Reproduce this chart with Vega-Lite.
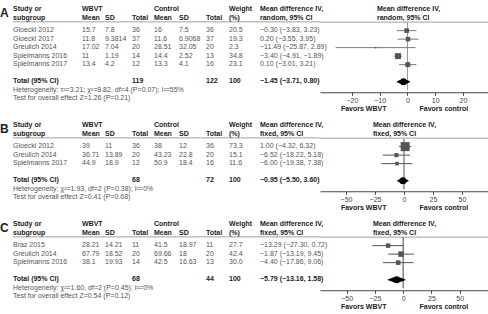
{
"$schema":"https://vega.github.io/schema/vega-lite/v6.json",
"background":"white",
"padding":{"left":0,"top":5,"right":0,"bottom":0},
"spacing":9,
"config":{"view":{"stroke":null},"text":{"font":"Liberation Sans","fontSize":7,"align":"left","baseline":"middle"},
"axis":{"labelFont":"Liberation Sans","titleFont":"Liberation Sans","labelFontSize":7,"titleFontSize":7,"titleFontWeight":"bold","titleColor":"#222","labelColor":"#444","domainColor":"#444","tickColor":"#444","tickSize":3,"labelPadding":1,"titlePadding":1,"grid":false,"labelFlush":false,"labelOverlap":false}},
"datasets":{"t":[
{"p":"A","r":"h1","letter":"A","study":"Study or","wm":"WBVT","cm":"Control","wgt":"Weight","ci":"Mean difference IV,"},
{"p":"A","r":"h2","study":"subgroup","wm":"Mean","wsd":"SD","wt":"Total","cm":"Mean","csd":"SD","ct":"Total","wgt":"(%)","ci":"random, 95% CI"},
{"p":"A","r":"r1","study":"Gloeckl 2012","wm":"15.7","wsd":"7.8","wt":"36","cm":"16","csd":"7.5","ct":"36","wgt":"20.5","ci":"−0.30 (−3.83, 3.23)","w":20.5,"md":-0.30,"lo":-3.83,"hi":3.23},
{"p":"A","r":"r2","study":"Gloeckl 2017","wm":"11.8","wsd":"9.3814","wt":"37","cm":"11.6","csd":"6.9068","ct":"37","wgt":"19.3","ci":"0.20 (−3.55, 3.95)","w":19.3,"md":0.20,"lo":-3.55,"hi":3.95},
{"p":"A","r":"r3","study":"Greulich 2014","wm":"17.02","wsd":"7.04","wt":"20","cm":"28.51","csd":"32.05","ct":"20","wgt":"2.3","ci":"−11.49 (−25.87, 2.89)","w":2.3,"md":-11.49,"lo":-25.87,"hi":2.89},
{"p":"A","r":"r4","study":"Spielmanns 2016","wm":"11","wsd":"1.19","wt":"14","cm":"14.4","csd":"2.52","ct":"13","wgt":"34.8","ci":"−3.40 (−4.91, −1.89)","w":34.8,"md":-3.40,"lo":-4.91,"hi":-1.89},
{"p":"A","r":"r5","study":"Spielmanns 2017","wm":"13.4","wsd":"4.2","wt":"12","cm":"13.3","csd":"4.1","ct":"16","wgt":"23.1","ci":"0.10 (−3.01, 3.21)","w":23.1,"md":0.10,"lo":-3.01,"hi":3.21},
{"p":"A","r":"tot","study":"Total (95% CI)","wt":"119","ct":"122","wgt":"100","ci":"−1.45 (−3.71, 0.80)","md":-1.45,"lo":-3.71,"hi":0.80},
{"p":"A","r":"het","study":"Heterogeneity: τ²=3.21; χ²=8.82, df=4 (P=0.07); I²=55%"},
{"p":"A","r":"test","study":"Test for overall effect Z=1.26 (P=0.21)"},
{"p":"B","r":"h1","letter":"B","study":"Study or","wm":"WBVT","cm":"Control","wgt":"Weight","ci":"Mean difference IV,"},
{"p":"B","r":"h2","study":"subgroup","wm":"Mean","wsd":"SD","wt":"Total","cm":"Mean","csd":"SD","ct":"Total","wgt":"(%)","ci":"fixed, 95% CI"},
{"p":"B","r":"r1","study":"Gloeckl 2012","wm":"39","wsd":"11","wt":"36","cm":"38","csd":"12","ct":"36","wgt":"73.3","ci":"1.00 (−4.32, 6.32)","w":73.3,"md":1.00,"lo":-4.32,"hi":6.32},
{"p":"B","r":"r2","study":"Greulich 2014","wm":"36.71","wsd":"13.89","wt":"20","cm":"43.23","csd":"22.8","ct":"20","wgt":"15.1","ci":"−6.52 (−18.22, 5.18)","w":15.1,"md":-6.52,"lo":-18.22,"hi":5.18},
{"p":"B","r":"r3","study":"Spielmanns 2017","wm":"44.9","wsd":"18.9","wt":"12","cm":"50.9","csd":"18.4","ct":"16","wgt":"11.6","ci":"−6.00 (−19.38, 7.38)","w":11.6,"md":-6.00,"lo":-19.38,"hi":7.38},
{"p":"B","r":"tot","study":"Total (95% CI)","wt":"68","ct":"72","wgt":"100","ci":"−0.95 (−5.50, 3.60)","md":-0.95,"lo":-5.50,"hi":3.60},
{"p":"B","r":"het","study":"Heterogeneity: χ²=1.93, df=2 (P=0.38); I²=0%"},
{"p":"B","r":"test","study":"Test for overall effect Z=0.41 (P=0.68)"},
{"p":"C","r":"h1","letter":"C","study":"Study or","wm":"WBVT","cm":"Control","wgt":"Weight","ci":"Mean difference IV,"},
{"p":"C","r":"h2","study":"subgroup","wm":"Mean","wsd":"SD","wt":"Total","cm":"Mean","csd":"SD","ct":"Total","wgt":"(%)","ci":"fixed, 95% CI"},
{"p":"C","r":"r1","study":"Braz 2015","wm":"28.21","wsd":"14.21","wt":"11","cm":"41.5","csd":"18.97","ct":"11","wgt":"27.7","ci":"−13.29 (−27.30, 0.72)","w":27.7,"md":-13.29,"lo":-27.30,"hi":0.72},
{"p":"C","r":"r2","study":"Greulich 2014","wm":"67.79","wsd":"18.52","wt":"20","cm":"69.66","csd":"18","ct":"20","wgt":"42.4","ci":"−1.87 (−13.19, 9.45)","w":42.4,"md":-1.87,"lo":-13.19,"hi":9.45},
{"p":"C","r":"r3","study":"Spielmanns 2016","wm":"38.1","wsd":"19.93","wt":"14","cm":"42.5","csd":"16.63","ct":"13","wgt":"30.0","ci":"−4.40 (−17.86, 9.06)","w":30.0,"md":-4.40,"lo":-17.86,"hi":9.06},
{"p":"C","r":"tot","study":"Total (95% CI)","wt":"68","ct":"44","wgt":"100","ci":"−5.79 (−13.16, 1.58)","md":-5.79,"lo":-13.16,"hi":1.58},
{"p":"C","r":"het","study":"Heterogeneity: χ²=1.60, df=2 (P=0.45); I²=0%"},
{"p":"C","r":"test","study":"Test for overall effect Z=0.54 (P=0.12)"}
]},
"vconcat":[
{"hconcat":[
{"width":13,"height":93.5,"data":{"name":"t"},"transform":[{"filter":"datum.p=='A' && isValid(datum.letter)"}],"mark":{"type":"text","fontSize":12,"fontWeight":"bold","color":"#222","dy":4},"encoding":{"x":{"field":"p","type":"nominal","scale":{"type":"point","padding":0,"align":0},"axis":null},"y":{"field":"r","type":"nominal","scale":{"type":"point","domain":["h1","s1","h2","line","s2","r1","s3","r2","s4","r3","s5","r4","s6","r5","s7","s8","s9","tot","s10","het","s11","test"]},"axis":null},"text":{"field":"letter"}}},
{"width":69,"height":93.5,"layer":[{"data":{"name":"t"},"transform":[{"filter":"datum.p=='A' && isValid(datum.study)"}],"mark":{"type":"text","fontWeight":{"expr":"datum.r=='h1'||datum.r=='h2'||datum.r=='tot' ? 'bold' : 'normal'"}},"encoding":{"x":{"field":"p","type":"nominal","scale":{"type":"point","padding":0,"align":0},"axis":null},"y":{"field":"r","type":"nominal","scale":{"type":"point","domain":["h1","s1","h2","line","s2","r1","s3","r2","s4","r3","s5","r4","s6","r5","s7","s8","s9","tot","s10","het","s11","test"]},"axis":null},"text":{"field":"study"},"color":{"condition":{"test":"datum.r=='h1'||datum.r=='h2'||datum.r=='tot'","value":"#222"},"value":"#555"}}},{"data":{"values":[{}]},"mark":{"type":"rule","color":"#888","strokeWidth":0.8},"encoding":{"y":{"datum":"line","type":"nominal","scale":{"type":"point","domain":["h1","s1","h2","line","s2","r1","s3","r2","s4","r3","s5","r4","s6","r5","s7","s8","s9","tot","s10","het","s11","test"]},"axis":null}}}]},
{"width":23,"height":93.5,"layer":[{"data":{"name":"t"},"transform":[{"filter":"datum.p=='A' && isValid(datum.wm)"}],"mark":{"type":"text","fontWeight":{"expr":"datum.r=='h1'||datum.r=='h2'||datum.r=='tot' ? 'bold' : 'normal'"}},"encoding":{"x":{"field":"p","type":"nominal","scale":{"type":"point","padding":0,"align":0},"axis":null},"y":{"field":"r","type":"nominal","scale":{"type":"point","domain":["h1","s1","h2","line","s2","r1","s3","r2","s4","r3","s5","r4","s6","r5","s7","s8","s9","tot","s10","het","s11","test"]},"axis":null},"text":{"field":"wm"},"color":{"condition":{"test":"datum.r=='h1'||datum.r=='h2'||datum.r=='tot'","value":"#222"},"value":"#555"}}},{"data":{"values":[{}]},"mark":{"type":"rule","color":"#888","strokeWidth":0.8},"encoding":{"y":{"datum":"line","type":"nominal","scale":{"type":"point","domain":["h1","s1","h2","line","s2","r1","s3","r2","s4","r3","s5","r4","s6","r5","s7","s8","s9","tot","s10","het","s11","test"]},"axis":null}}}]},
{"width":27,"height":93.5,"layer":[{"data":{"name":"t"},"transform":[{"filter":"datum.p=='A' && isValid(datum.wsd)"}],"mark":{"type":"text","fontWeight":{"expr":"datum.r=='h1'||datum.r=='h2'||datum.r=='tot' ? 'bold' : 'normal'"}},"encoding":{"x":{"field":"p","type":"nominal","scale":{"type":"point","padding":0,"align":0},"axis":null},"y":{"field":"r","type":"nominal","scale":{"type":"point","domain":["h1","s1","h2","line","s2","r1","s3","r2","s4","r3","s5","r4","s6","r5","s7","s8","s9","tot","s10","het","s11","test"]},"axis":null},"text":{"field":"wsd"},"color":{"condition":{"test":"datum.r=='h1'||datum.r=='h2'||datum.r=='tot'","value":"#222"},"value":"#555"}}},{"data":{"values":[{}]},"mark":{"type":"rule","color":"#888","strokeWidth":0.8},"encoding":{"y":{"datum":"line","type":"nominal","scale":{"type":"point","domain":["h1","s1","h2","line","s2","r1","s3","r2","s4","r3","s5","r4","s6","r5","s7","s8","s9","tot","s10","het","s11","test"]},"axis":null}}}]},
{"width":22,"height":93.5,"layer":[{"data":{"name":"t"},"transform":[{"filter":"datum.p=='A' && isValid(datum.wt)"}],"mark":{"type":"text","fontWeight":{"expr":"datum.r=='h1'||datum.r=='h2'||datum.r=='tot' ? 'bold' : 'normal'"}},"encoding":{"x":{"field":"p","type":"nominal","scale":{"type":"point","padding":0,"align":0},"axis":null},"y":{"field":"r","type":"nominal","scale":{"type":"point","domain":["h1","s1","h2","line","s2","r1","s3","r2","s4","r3","s5","r4","s6","r5","s7","s8","s9","tot","s10","het","s11","test"]},"axis":null},"text":{"field":"wt"},"color":{"condition":{"test":"datum.r=='h1'||datum.r=='h2'||datum.r=='tot'","value":"#222"},"value":"#555"}}},{"data":{"values":[{}]},"mark":{"type":"rule","color":"#888","strokeWidth":0.8},"encoding":{"y":{"datum":"line","type":"nominal","scale":{"type":"point","domain":["h1","s1","h2","line","s2","r1","s3","r2","s4","r3","s5","r4","s6","r5","s7","s8","s9","tot","s10","het","s11","test"]},"axis":null}}}]},
{"width":25,"height":93.5,"layer":[{"data":{"name":"t"},"transform":[{"filter":"datum.p=='A' && isValid(datum.cm)"}],"mark":{"type":"text","fontWeight":{"expr":"datum.r=='h1'||datum.r=='h2'||datum.r=='tot' ? 'bold' : 'normal'"}},"encoding":{"x":{"field":"p","type":"nominal","scale":{"type":"point","padding":0,"align":0},"axis":null},"y":{"field":"r","type":"nominal","scale":{"type":"point","domain":["h1","s1","h2","line","s2","r1","s3","r2","s4","r3","s5","r4","s6","r5","s7","s8","s9","tot","s10","het","s11","test"]},"axis":null},"text":{"field":"cm"},"color":{"condition":{"test":"datum.r=='h1'||datum.r=='h2'||datum.r=='tot'","value":"#222"},"value":"#555"}}},{"data":{"values":[{}]},"mark":{"type":"rule","color":"#888","strokeWidth":0.8},"encoding":{"y":{"datum":"line","type":"nominal","scale":{"type":"point","domain":["h1","s1","h2","line","s2","r1","s3","r2","s4","r3","s5","r4","s6","r5","s7","s8","s9","tot","s10","het","s11","test"]},"axis":null}}}]},
{"width":27,"height":93.5,"layer":[{"data":{"name":"t"},"transform":[{"filter":"datum.p=='A' && isValid(datum.csd)"}],"mark":{"type":"text","fontWeight":{"expr":"datum.r=='h1'||datum.r=='h2'||datum.r=='tot' ? 'bold' : 'normal'"}},"encoding":{"x":{"field":"p","type":"nominal","scale":{"type":"point","padding":0,"align":0},"axis":null},"y":{"field":"r","type":"nominal","scale":{"type":"point","domain":["h1","s1","h2","line","s2","r1","s3","r2","s4","r3","s5","r4","s6","r5","s7","s8","s9","tot","s10","het","s11","test"]},"axis":null},"text":{"field":"csd"},"color":{"condition":{"test":"datum.r=='h1'||datum.r=='h2'||datum.r=='tot'","value":"#222"},"value":"#555"}}},{"data":{"values":[{}]},"mark":{"type":"rule","color":"#888","strokeWidth":0.8},"encoding":{"y":{"datum":"line","type":"nominal","scale":{"type":"point","domain":["h1","s1","h2","line","s2","r1","s3","r2","s4","r3","s5","r4","s6","r5","s7","s8","s9","tot","s10","het","s11","test"]},"axis":null}}}]},
{"width":23,"height":93.5,"layer":[{"data":{"name":"t"},"transform":[{"filter":"datum.p=='A' && isValid(datum.ct)"}],"mark":{"type":"text","fontWeight":{"expr":"datum.r=='h1'||datum.r=='h2'||datum.r=='tot' ? 'bold' : 'normal'"}},"encoding":{"x":{"field":"p","type":"nominal","scale":{"type":"point","padding":0,"align":0},"axis":null},"y":{"field":"r","type":"nominal","scale":{"type":"point","domain":["h1","s1","h2","line","s2","r1","s3","r2","s4","r3","s5","r4","s6","r5","s7","s8","s9","tot","s10","het","s11","test"]},"axis":null},"text":{"field":"ct"},"color":{"condition":{"test":"datum.r=='h1'||datum.r=='h2'||datum.r=='tot'","value":"#222"},"value":"#555"}}},{"data":{"values":[{}]},"mark":{"type":"rule","color":"#888","strokeWidth":0.8},"encoding":{"y":{"datum":"line","type":"nominal","scale":{"type":"point","domain":["h1","s1","h2","line","s2","r1","s3","r2","s4","r3","s5","r4","s6","r5","s7","s8","s9","tot","s10","het","s11","test"]},"axis":null}}}]},
{"width":31,"height":93.5,"layer":[{"data":{"name":"t"},"transform":[{"filter":"datum.p=='A' && isValid(datum.wgt)"}],"mark":{"type":"text","fontWeight":{"expr":"datum.r=='h1'||datum.r=='h2'||datum.r=='tot' ? 'bold' : 'normal'"}},"encoding":{"x":{"field":"p","type":"nominal","scale":{"type":"point","padding":0,"align":0},"axis":null},"y":{"field":"r","type":"nominal","scale":{"type":"point","domain":["h1","s1","h2","line","s2","r1","s3","r2","s4","r3","s5","r4","s6","r5","s7","s8","s9","tot","s10","het","s11","test"]},"axis":null},"text":{"field":"wgt"},"color":{"condition":{"test":"datum.r=='h1'||datum.r=='h2'||datum.r=='tot'","value":"#222"},"value":"#555"}}},{"data":{"values":[{}]},"mark":{"type":"rule","color":"#888","strokeWidth":0.8},"encoding":{"y":{"datum":"line","type":"nominal","scale":{"type":"point","domain":["h1","s1","h2","line","s2","r1","s3","r2","s4","r3","s5","r4","s6","r5","s7","s8","s9","tot","s10","het","s11","test"]},"axis":null}}}]},
{"width":60,"height":93.5,"layer":[{"data":{"name":"t"},"transform":[{"filter":"datum.p=='A' && isValid(datum.ci)"}],"mark":{"type":"text","fontWeight":{"expr":"datum.r=='h1'||datum.r=='h2'||datum.r=='tot' ? 'bold' : 'normal'"}},"encoding":{"x":{"field":"p","type":"nominal","scale":{"type":"point","padding":0,"align":0},"axis":null},"y":{"field":"r","type":"nominal","scale":{"type":"point","domain":["h1","s1","h2","line","s2","r1","s3","r2","s4","r3","s5","r4","s6","r5","s7","s8","s9","tot","s10","het","s11","test"]},"axis":null},"text":{"field":"ci"},"color":{"condition":{"test":"datum.r=='h1'||datum.r=='h2'||datum.r=='tot'","value":"#222"},"value":"#555"}}},{"data":{"values":[{}]},"mark":{"type":"rule","color":"#888","strokeWidth":0.8},"encoding":{"y":{"datum":"line","type":"nominal","scale":{"type":"point","domain":["h1","s1","h2","line","s2","r1","s3","r2","s4","r3","s5","r4","s6","r5","s7","s8","s9","tot","s10","het","s11","test"]},"axis":null}}}]},
{"vconcat":[
{"width":168,"height":12.75,"data":{"name":"t"},"transform":[{"filter":"datum.p=='A' && (datum.r=='h1' || datum.r=='h2')"}],"mark":{"type":"text","fontWeight":"bold","color":"#222"},"encoding":{"x":{"field":"p","type":"nominal","scale":{"type":"point","align":0.339},"axis":null},"y":{"field":"r","type":"nominal","scale":{"type":"point","domain":["h1","s1","h2"]},"axis":null},"text":{"field":"ci"}}},
{"width":168,"height":72.25,"layer":[
{"data":{"values":[{}]},"mark":{"type":"rule","color":"#888","strokeWidth":0.8},"encoding":{"y":{"datum":"line","type":"nominal","scale":{"type":"point","domain":["line","s2","r1","s3","r2","s4","r3","s5","r4","s6","r5","s7","s8","s9","tot","s10","het"]},"axis":null}}},
{"data":{"values":[{}]},"mark":{"type":"rule","color":"#999","strokeWidth":1},"encoding":{"x":{"datum":0,"type":"quantitative","scale":{"domain":[-31.5,29],"nice":false,"zero":false},"axis":{"values":[-20,-10,0,10,20],"title":"Favors WBVT\u00a0\u00a0\u00a0\u00a0\u00a0\u00a0\u00a0\u00a0\u00a0\u00a0\u00a0\u00a0\u00a0\u00a0\u00a0\u00a0\u00a0Favors control"}},"y":{"datum":"line","type":"nominal","scale":{"type":"point","domain":["line","s2","r1","s3","r2","s4","r3","s5","r4","s6","r5","s7","s8","s9","tot","s10","het"]},"axis":null},"y2":{"datum":"het"}}},
{"data":{"name":"t"},"transform":[{"filter":"datum.p=='A' && isValid(datum.w)"}],"mark":{"type":"rule","color":"#777","strokeWidth":1},"encoding":{"x":{"field":"lo","type":"quantitative","scale":{"domain":[-31.5,29],"nice":false,"zero":false}},"x2":{"field":"hi"},"y":{"field":"r","type":"nominal","scale":{"type":"point","domain":["line","s2","r1","s3","r2","s4","r3","s5","r4","s6","r5","s7","s8","s9","tot","s10","het"]},"axis":null}}},
{"data":{"name":"t"},"transform":[{"filter":"datum.p=='A' && isValid(datum.w)"}],"mark":{"type":"point","shape":"square","filled":true,"color":"#555","opacity":1},"encoding":{"x":{"field":"md","type":"quantitative","scale":{"domain":[-31.5,29],"nice":false,"zero":false}},"y":{"field":"r","type":"nominal","scale":{"type":"point","domain":["line","s2","r1","s3","r2","s4","r3","s5","r4","s6","r5","s7","s8","s9","tot","s10","het"]},"axis":null},"size":{"field":"w","type":"quantitative","scale":{"domain":[0,34.8],"range":[0,36]},"legend":null}}},
{"data":{"name":"t"},"transform":[{"filter":"datum.p=='A' && datum.r=='tot'"},{"fold":["lo","md","hi"]}],"mark":{"type":"trail","color":"#000"},"encoding":{"x":{"field":"value","type":"quantitative","scale":{"domain":[-31.5,29],"nice":false,"zero":false}},"y":{"field":"r","type":"nominal","scale":{"type":"point","domain":["line","s2","r1","s3","r2","s4","r3","s5","r4","s6","r5","s7","s8","s9","tot","s10","het"]},"axis":null},"size":{"field":"key","type":"ordinal","scale":{"type":"ordinal","domain":["lo","md","hi"],"range":[0,7,0]},"legend":null}}}
]}
],"spacing":0,"bounds":"flush"}
],"spacing":0,"bounds":"flush"},
{"hconcat":[
{"width":13,"height":76.5,"data":{"name":"t"},"transform":[{"filter":"datum.p=='B' && isValid(datum.letter)"}],"mark":{"type":"text","fontSize":12,"fontWeight":"bold","color":"#222","dy":4},"encoding":{"x":{"field":"p","type":"nominal","scale":{"type":"point","padding":0,"align":0},"axis":null},"y":{"field":"r","type":"nominal","scale":{"type":"point","domain":["h1","s1","h2","line","s2","r1","s3","r2","s4","r3","s5","s6","s7","tot","s8","het","s9","test"]},"axis":null},"text":{"field":"letter"}}},
{"width":69,"height":76.5,"layer":[{"data":{"name":"t"},"transform":[{"filter":"datum.p=='B' && isValid(datum.study)"}],"mark":{"type":"text","fontWeight":{"expr":"datum.r=='h1'||datum.r=='h2'||datum.r=='tot' ? 'bold' : 'normal'"}},"encoding":{"x":{"field":"p","type":"nominal","scale":{"type":"point","padding":0,"align":0},"axis":null},"y":{"field":"r","type":"nominal","scale":{"type":"point","domain":["h1","s1","h2","line","s2","r1","s3","r2","s4","r3","s5","s6","s7","tot","s8","het","s9","test"]},"axis":null},"text":{"field":"study"},"color":{"condition":{"test":"datum.r=='h1'||datum.r=='h2'||datum.r=='tot'","value":"#222"},"value":"#555"}}},{"data":{"values":[{}]},"mark":{"type":"rule","color":"#888","strokeWidth":0.8},"encoding":{"y":{"datum":"line","type":"nominal","scale":{"type":"point","domain":["h1","s1","h2","line","s2","r1","s3","r2","s4","r3","s5","s6","s7","tot","s8","het","s9","test"]},"axis":null}}}]},
{"width":23,"height":76.5,"layer":[{"data":{"name":"t"},"transform":[{"filter":"datum.p=='B' && isValid(datum.wm)"}],"mark":{"type":"text","fontWeight":{"expr":"datum.r=='h1'||datum.r=='h2'||datum.r=='tot' ? 'bold' : 'normal'"}},"encoding":{"x":{"field":"p","type":"nominal","scale":{"type":"point","padding":0,"align":0},"axis":null},"y":{"field":"r","type":"nominal","scale":{"type":"point","domain":["h1","s1","h2","line","s2","r1","s3","r2","s4","r3","s5","s6","s7","tot","s8","het","s9","test"]},"axis":null},"text":{"field":"wm"},"color":{"condition":{"test":"datum.r=='h1'||datum.r=='h2'||datum.r=='tot'","value":"#222"},"value":"#555"}}},{"data":{"values":[{}]},"mark":{"type":"rule","color":"#888","strokeWidth":0.8},"encoding":{"y":{"datum":"line","type":"nominal","scale":{"type":"point","domain":["h1","s1","h2","line","s2","r1","s3","r2","s4","r3","s5","s6","s7","tot","s8","het","s9","test"]},"axis":null}}}]},
{"width":27,"height":76.5,"layer":[{"data":{"name":"t"},"transform":[{"filter":"datum.p=='B' && isValid(datum.wsd)"}],"mark":{"type":"text","fontWeight":{"expr":"datum.r=='h1'||datum.r=='h2'||datum.r=='tot' ? 'bold' : 'normal'"}},"encoding":{"x":{"field":"p","type":"nominal","scale":{"type":"point","padding":0,"align":0},"axis":null},"y":{"field":"r","type":"nominal","scale":{"type":"point","domain":["h1","s1","h2","line","s2","r1","s3","r2","s4","r3","s5","s6","s7","tot","s8","het","s9","test"]},"axis":null},"text":{"field":"wsd"},"color":{"condition":{"test":"datum.r=='h1'||datum.r=='h2'||datum.r=='tot'","value":"#222"},"value":"#555"}}},{"data":{"values":[{}]},"mark":{"type":"rule","color":"#888","strokeWidth":0.8},"encoding":{"y":{"datum":"line","type":"nominal","scale":{"type":"point","domain":["h1","s1","h2","line","s2","r1","s3","r2","s4","r3","s5","s6","s7","tot","s8","het","s9","test"]},"axis":null}}}]},
{"width":22,"height":76.5,"layer":[{"data":{"name":"t"},"transform":[{"filter":"datum.p=='B' && isValid(datum.wt)"}],"mark":{"type":"text","fontWeight":{"expr":"datum.r=='h1'||datum.r=='h2'||datum.r=='tot' ? 'bold' : 'normal'"}},"encoding":{"x":{"field":"p","type":"nominal","scale":{"type":"point","padding":0,"align":0},"axis":null},"y":{"field":"r","type":"nominal","scale":{"type":"point","domain":["h1","s1","h2","line","s2","r1","s3","r2","s4","r3","s5","s6","s7","tot","s8","het","s9","test"]},"axis":null},"text":{"field":"wt"},"color":{"condition":{"test":"datum.r=='h1'||datum.r=='h2'||datum.r=='tot'","value":"#222"},"value":"#555"}}},{"data":{"values":[{}]},"mark":{"type":"rule","color":"#888","strokeWidth":0.8},"encoding":{"y":{"datum":"line","type":"nominal","scale":{"type":"point","domain":["h1","s1","h2","line","s2","r1","s3","r2","s4","r3","s5","s6","s7","tot","s8","het","s9","test"]},"axis":null}}}]},
{"width":25,"height":76.5,"layer":[{"data":{"name":"t"},"transform":[{"filter":"datum.p=='B' && isValid(datum.cm)"}],"mark":{"type":"text","fontWeight":{"expr":"datum.r=='h1'||datum.r=='h2'||datum.r=='tot' ? 'bold' : 'normal'"}},"encoding":{"x":{"field":"p","type":"nominal","scale":{"type":"point","padding":0,"align":0},"axis":null},"y":{"field":"r","type":"nominal","scale":{"type":"point","domain":["h1","s1","h2","line","s2","r1","s3","r2","s4","r3","s5","s6","s7","tot","s8","het","s9","test"]},"axis":null},"text":{"field":"cm"},"color":{"condition":{"test":"datum.r=='h1'||datum.r=='h2'||datum.r=='tot'","value":"#222"},"value":"#555"}}},{"data":{"values":[{}]},"mark":{"type":"rule","color":"#888","strokeWidth":0.8},"encoding":{"y":{"datum":"line","type":"nominal","scale":{"type":"point","domain":["h1","s1","h2","line","s2","r1","s3","r2","s4","r3","s5","s6","s7","tot","s8","het","s9","test"]},"axis":null}}}]},
{"width":27,"height":76.5,"layer":[{"data":{"name":"t"},"transform":[{"filter":"datum.p=='B' && isValid(datum.csd)"}],"mark":{"type":"text","fontWeight":{"expr":"datum.r=='h1'||datum.r=='h2'||datum.r=='tot' ? 'bold' : 'normal'"}},"encoding":{"x":{"field":"p","type":"nominal","scale":{"type":"point","padding":0,"align":0},"axis":null},"y":{"field":"r","type":"nominal","scale":{"type":"point","domain":["h1","s1","h2","line","s2","r1","s3","r2","s4","r3","s5","s6","s7","tot","s8","het","s9","test"]},"axis":null},"text":{"field":"csd"},"color":{"condition":{"test":"datum.r=='h1'||datum.r=='h2'||datum.r=='tot'","value":"#222"},"value":"#555"}}},{"data":{"values":[{}]},"mark":{"type":"rule","color":"#888","strokeWidth":0.8},"encoding":{"y":{"datum":"line","type":"nominal","scale":{"type":"point","domain":["h1","s1","h2","line","s2","r1","s3","r2","s4","r3","s5","s6","s7","tot","s8","het","s9","test"]},"axis":null}}}]},
{"width":23,"height":76.5,"layer":[{"data":{"name":"t"},"transform":[{"filter":"datum.p=='B' && isValid(datum.ct)"}],"mark":{"type":"text","fontWeight":{"expr":"datum.r=='h1'||datum.r=='h2'||datum.r=='tot' ? 'bold' : 'normal'"}},"encoding":{"x":{"field":"p","type":"nominal","scale":{"type":"point","padding":0,"align":0},"axis":null},"y":{"field":"r","type":"nominal","scale":{"type":"point","domain":["h1","s1","h2","line","s2","r1","s3","r2","s4","r3","s5","s6","s7","tot","s8","het","s9","test"]},"axis":null},"text":{"field":"ct"},"color":{"condition":{"test":"datum.r=='h1'||datum.r=='h2'||datum.r=='tot'","value":"#222"},"value":"#555"}}},{"data":{"values":[{}]},"mark":{"type":"rule","color":"#888","strokeWidth":0.8},"encoding":{"y":{"datum":"line","type":"nominal","scale":{"type":"point","domain":["h1","s1","h2","line","s2","r1","s3","r2","s4","r3","s5","s6","s7","tot","s8","het","s9","test"]},"axis":null}}}]},
{"width":31,"height":76.5,"layer":[{"data":{"name":"t"},"transform":[{"filter":"datum.p=='B' && isValid(datum.wgt)"}],"mark":{"type":"text","fontWeight":{"expr":"datum.r=='h1'||datum.r=='h2'||datum.r=='tot' ? 'bold' : 'normal'"}},"encoding":{"x":{"field":"p","type":"nominal","scale":{"type":"point","padding":0,"align":0},"axis":null},"y":{"field":"r","type":"nominal","scale":{"type":"point","domain":["h1","s1","h2","line","s2","r1","s3","r2","s4","r3","s5","s6","s7","tot","s8","het","s9","test"]},"axis":null},"text":{"field":"wgt"},"color":{"condition":{"test":"datum.r=='h1'||datum.r=='h2'||datum.r=='tot'","value":"#222"},"value":"#555"}}},{"data":{"values":[{}]},"mark":{"type":"rule","color":"#888","strokeWidth":0.8},"encoding":{"y":{"datum":"line","type":"nominal","scale":{"type":"point","domain":["h1","s1","h2","line","s2","r1","s3","r2","s4","r3","s5","s6","s7","tot","s8","het","s9","test"]},"axis":null}}}]},
{"width":60,"height":76.5,"layer":[{"data":{"name":"t"},"transform":[{"filter":"datum.p=='B' && isValid(datum.ci)"}],"mark":{"type":"text","fontWeight":{"expr":"datum.r=='h1'||datum.r=='h2'||datum.r=='tot' ? 'bold' : 'normal'"}},"encoding":{"x":{"field":"p","type":"nominal","scale":{"type":"point","padding":0,"align":0},"axis":null},"y":{"field":"r","type":"nominal","scale":{"type":"point","domain":["h1","s1","h2","line","s2","r1","s3","r2","s4","r3","s5","s6","s7","tot","s8","het","s9","test"]},"axis":null},"text":{"field":"ci"},"color":{"condition":{"test":"datum.r=='h1'||datum.r=='h2'||datum.r=='tot'","value":"#222"},"value":"#555"}}},{"data":{"values":[{}]},"mark":{"type":"rule","color":"#888","strokeWidth":0.8},"encoding":{"y":{"datum":"line","type":"nominal","scale":{"type":"point","domain":["h1","s1","h2","line","s2","r1","s3","r2","s4","r3","s5","s6","s7","tot","s8","het","s9","test"]},"axis":null}}}]},
{"vconcat":[
{"width":168,"height":12.75,"data":{"name":"t"},"transform":[{"filter":"datum.p=='B' && (datum.r=='h1' || datum.r=='h2')"}],"mark":{"type":"text","fontWeight":"bold","color":"#222"},"encoding":{"x":{"field":"p","type":"nominal","scale":{"type":"point","align":0.315},"axis":null},"y":{"field":"r","type":"nominal","scale":{"type":"point","domain":["h1","s1","h2"]},"axis":null},"text":{"field":"ci"}}},
{"width":168,"height":55.25,"layer":[
{"data":{"values":[{}]},"mark":{"type":"rule","color":"#888","strokeWidth":0.8},"encoding":{"y":{"datum":"line","type":"nominal","scale":{"type":"point","domain":["line","s2","r1","s3","r2","s4","r3","s5","s6","s7","tot","s8","het"]},"axis":null}}},
{"data":{"values":[{}]},"mark":{"type":"rule","color":"#aaa","strokeWidth":2},"encoding":{"x":{"datum":0,"type":"quantitative","scale":{"domain":[-72.4,72.4],"nice":false,"zero":false},"axis":{"values":[-50,-25,0,25,50],"title":"Favors WBVT\u00a0\u00a0\u00a0\u00a0\u00a0\u00a0\u00a0\u00a0\u00a0\u00a0\u00a0\u00a0\u00a0\u00a0\u00a0\u00a0\u00a0Favors control"}},"y":{"datum":"line","type":"nominal","scale":{"type":"point","domain":["line","s2","r1","s3","r2","s4","r3","s5","s6","s7","tot","s8","het"]},"axis":null},"y2":{"datum":"het"}}},
{"data":{"name":"t"},"transform":[{"filter":"datum.p=='B' && isValid(datum.w)"}],"mark":{"type":"rule","color":"#555","strokeWidth":1},"encoding":{"x":{"field":"lo","type":"quantitative","scale":{"domain":[-72.4,72.4],"nice":false,"zero":false}},"x2":{"field":"hi"},"y":{"field":"r","type":"nominal","scale":{"type":"point","domain":["line","s2","r1","s3","r2","s4","r3","s5","s6","s7","tot","s8","het"]},"axis":null}}},
{"data":{"name":"t"},"transform":[{"filter":"datum.p=='B' && isValid(datum.w)"}],"mark":{"type":"point","shape":"square","filled":true,"color":"#555","opacity":1},"encoding":{"x":{"field":"md","type":"quantitative","scale":{"domain":[-72.4,72.4],"nice":false,"zero":false}},"y":{"field":"r","type":"nominal","scale":{"type":"point","domain":["line","s2","r1","s3","r2","s4","r3","s5","s6","s7","tot","s8","het"]},"axis":null},"size":{"field":"w","type":"quantitative","scale":{"domain":[0,73.3],"range":[0,81]},"legend":null}}},
{"data":{"name":"t"},"transform":[{"filter":"datum.p=='B' && datum.r=='tot'"},{"fold":["lo","md","hi"]}],"mark":{"type":"trail","color":"#000"},"encoding":{"x":{"field":"value","type":"quantitative","scale":{"domain":[-72.4,72.4],"nice":false,"zero":false}},"y":{"field":"r","type":"nominal","scale":{"type":"point","domain":["line","s2","r1","s3","r2","s4","r3","s5","s6","s7","tot","s8","het"]},"axis":null},"size":{"field":"key","type":"ordinal","scale":{"type":"ordinal","domain":["lo","md","hi"],"range":[0,7,0]},"legend":null}}}
]}
],"spacing":0,"bounds":"flush"}
],"spacing":0,"bounds":"flush"},
{"hconcat":[
{"width":13,"height":76.5,"data":{"name":"t"},"transform":[{"filter":"datum.p=='C' && isValid(datum.letter)"}],"mark":{"type":"text","fontSize":12,"fontWeight":"bold","color":"#222","dy":4},"encoding":{"x":{"field":"p","type":"nominal","scale":{"type":"point","padding":0,"align":0},"axis":null},"y":{"field":"r","type":"nominal","scale":{"type":"point","domain":["h1","s1","h2","line","s2","r1","s3","r2","s4","r3","s5","s6","s7","tot","s8","het","s9","test"]},"axis":null},"text":{"field":"letter"}}},
{"width":69,"height":76.5,"layer":[{"data":{"name":"t"},"transform":[{"filter":"datum.p=='C' && isValid(datum.study)"}],"mark":{"type":"text","fontWeight":{"expr":"datum.r=='h1'||datum.r=='h2'||datum.r=='tot' ? 'bold' : 'normal'"}},"encoding":{"x":{"field":"p","type":"nominal","scale":{"type":"point","padding":0,"align":0},"axis":null},"y":{"field":"r","type":"nominal","scale":{"type":"point","domain":["h1","s1","h2","line","s2","r1","s3","r2","s4","r3","s5","s6","s7","tot","s8","het","s9","test"]},"axis":null},"text":{"field":"study"},"color":{"condition":{"test":"datum.r=='h1'||datum.r=='h2'||datum.r=='tot'","value":"#222"},"value":"#555"}}},{"data":{"values":[{}]},"mark":{"type":"rule","color":"#888","strokeWidth":0.8},"encoding":{"y":{"datum":"line","type":"nominal","scale":{"type":"point","domain":["h1","s1","h2","line","s2","r1","s3","r2","s4","r3","s5","s6","s7","tot","s8","het","s9","test"]},"axis":null}}}]},
{"width":23,"height":76.5,"layer":[{"data":{"name":"t"},"transform":[{"filter":"datum.p=='C' && isValid(datum.wm)"}],"mark":{"type":"text","fontWeight":{"expr":"datum.r=='h1'||datum.r=='h2'||datum.r=='tot' ? 'bold' : 'normal'"}},"encoding":{"x":{"field":"p","type":"nominal","scale":{"type":"point","padding":0,"align":0},"axis":null},"y":{"field":"r","type":"nominal","scale":{"type":"point","domain":["h1","s1","h2","line","s2","r1","s3","r2","s4","r3","s5","s6","s7","tot","s8","het","s9","test"]},"axis":null},"text":{"field":"wm"},"color":{"condition":{"test":"datum.r=='h1'||datum.r=='h2'||datum.r=='tot'","value":"#222"},"value":"#555"}}},{"data":{"values":[{}]},"mark":{"type":"rule","color":"#888","strokeWidth":0.8},"encoding":{"y":{"datum":"line","type":"nominal","scale":{"type":"point","domain":["h1","s1","h2","line","s2","r1","s3","r2","s4","r3","s5","s6","s7","tot","s8","het","s9","test"]},"axis":null}}}]},
{"width":27,"height":76.5,"layer":[{"data":{"name":"t"},"transform":[{"filter":"datum.p=='C' && isValid(datum.wsd)"}],"mark":{"type":"text","fontWeight":{"expr":"datum.r=='h1'||datum.r=='h2'||datum.r=='tot' ? 'bold' : 'normal'"}},"encoding":{"x":{"field":"p","type":"nominal","scale":{"type":"point","padding":0,"align":0},"axis":null},"y":{"field":"r","type":"nominal","scale":{"type":"point","domain":["h1","s1","h2","line","s2","r1","s3","r2","s4","r3","s5","s6","s7","tot","s8","het","s9","test"]},"axis":null},"text":{"field":"wsd"},"color":{"condition":{"test":"datum.r=='h1'||datum.r=='h2'||datum.r=='tot'","value":"#222"},"value":"#555"}}},{"data":{"values":[{}]},"mark":{"type":"rule","color":"#888","strokeWidth":0.8},"encoding":{"y":{"datum":"line","type":"nominal","scale":{"type":"point","domain":["h1","s1","h2","line","s2","r1","s3","r2","s4","r3","s5","s6","s7","tot","s8","het","s9","test"]},"axis":null}}}]},
{"width":22,"height":76.5,"layer":[{"data":{"name":"t"},"transform":[{"filter":"datum.p=='C' && isValid(datum.wt)"}],"mark":{"type":"text","fontWeight":{"expr":"datum.r=='h1'||datum.r=='h2'||datum.r=='tot' ? 'bold' : 'normal'"}},"encoding":{"x":{"field":"p","type":"nominal","scale":{"type":"point","padding":0,"align":0},"axis":null},"y":{"field":"r","type":"nominal","scale":{"type":"point","domain":["h1","s1","h2","line","s2","r1","s3","r2","s4","r3","s5","s6","s7","tot","s8","het","s9","test"]},"axis":null},"text":{"field":"wt"},"color":{"condition":{"test":"datum.r=='h1'||datum.r=='h2'||datum.r=='tot'","value":"#222"},"value":"#555"}}},{"data":{"values":[{}]},"mark":{"type":"rule","color":"#888","strokeWidth":0.8},"encoding":{"y":{"datum":"line","type":"nominal","scale":{"type":"point","domain":["h1","s1","h2","line","s2","r1","s3","r2","s4","r3","s5","s6","s7","tot","s8","het","s9","test"]},"axis":null}}}]},
{"width":25,"height":76.5,"layer":[{"data":{"name":"t"},"transform":[{"filter":"datum.p=='C' && isValid(datum.cm)"}],"mark":{"type":"text","fontWeight":{"expr":"datum.r=='h1'||datum.r=='h2'||datum.r=='tot' ? 'bold' : 'normal'"}},"encoding":{"x":{"field":"p","type":"nominal","scale":{"type":"point","padding":0,"align":0},"axis":null},"y":{"field":"r","type":"nominal","scale":{"type":"point","domain":["h1","s1","h2","line","s2","r1","s3","r2","s4","r3","s5","s6","s7","tot","s8","het","s9","test"]},"axis":null},"text":{"field":"cm"},"color":{"condition":{"test":"datum.r=='h1'||datum.r=='h2'||datum.r=='tot'","value":"#222"},"value":"#555"}}},{"data":{"values":[{}]},"mark":{"type":"rule","color":"#888","strokeWidth":0.8},"encoding":{"y":{"datum":"line","type":"nominal","scale":{"type":"point","domain":["h1","s1","h2","line","s2","r1","s3","r2","s4","r3","s5","s6","s7","tot","s8","het","s9","test"]},"axis":null}}}]},
{"width":27,"height":76.5,"layer":[{"data":{"name":"t"},"transform":[{"filter":"datum.p=='C' && isValid(datum.csd)"}],"mark":{"type":"text","fontWeight":{"expr":"datum.r=='h1'||datum.r=='h2'||datum.r=='tot' ? 'bold' : 'normal'"}},"encoding":{"x":{"field":"p","type":"nominal","scale":{"type":"point","padding":0,"align":0},"axis":null},"y":{"field":"r","type":"nominal","scale":{"type":"point","domain":["h1","s1","h2","line","s2","r1","s3","r2","s4","r3","s5","s6","s7","tot","s8","het","s9","test"]},"axis":null},"text":{"field":"csd"},"color":{"condition":{"test":"datum.r=='h1'||datum.r=='h2'||datum.r=='tot'","value":"#222"},"value":"#555"}}},{"data":{"values":[{}]},"mark":{"type":"rule","color":"#888","strokeWidth":0.8},"encoding":{"y":{"datum":"line","type":"nominal","scale":{"type":"point","domain":["h1","s1","h2","line","s2","r1","s3","r2","s4","r3","s5","s6","s7","tot","s8","het","s9","test"]},"axis":null}}}]},
{"width":23,"height":76.5,"layer":[{"data":{"name":"t"},"transform":[{"filter":"datum.p=='C' && isValid(datum.ct)"}],"mark":{"type":"text","fontWeight":{"expr":"datum.r=='h1'||datum.r=='h2'||datum.r=='tot' ? 'bold' : 'normal'"}},"encoding":{"x":{"field":"p","type":"nominal","scale":{"type":"point","padding":0,"align":0},"axis":null},"y":{"field":"r","type":"nominal","scale":{"type":"point","domain":["h1","s1","h2","line","s2","r1","s3","r2","s4","r3","s5","s6","s7","tot","s8","het","s9","test"]},"axis":null},"text":{"field":"ct"},"color":{"condition":{"test":"datum.r=='h1'||datum.r=='h2'||datum.r=='tot'","value":"#222"},"value":"#555"}}},{"data":{"values":[{}]},"mark":{"type":"rule","color":"#888","strokeWidth":0.8},"encoding":{"y":{"datum":"line","type":"nominal","scale":{"type":"point","domain":["h1","s1","h2","line","s2","r1","s3","r2","s4","r3","s5","s6","s7","tot","s8","het","s9","test"]},"axis":null}}}]},
{"width":31,"height":76.5,"layer":[{"data":{"name":"t"},"transform":[{"filter":"datum.p=='C' && isValid(datum.wgt)"}],"mark":{"type":"text","fontWeight":{"expr":"datum.r=='h1'||datum.r=='h2'||datum.r=='tot' ? 'bold' : 'normal'"}},"encoding":{"x":{"field":"p","type":"nominal","scale":{"type":"point","padding":0,"align":0},"axis":null},"y":{"field":"r","type":"nominal","scale":{"type":"point","domain":["h1","s1","h2","line","s2","r1","s3","r2","s4","r3","s5","s6","s7","tot","s8","het","s9","test"]},"axis":null},"text":{"field":"wgt"},"color":{"condition":{"test":"datum.r=='h1'||datum.r=='h2'||datum.r=='tot'","value":"#222"},"value":"#555"}}},{"data":{"values":[{}]},"mark":{"type":"rule","color":"#888","strokeWidth":0.8},"encoding":{"y":{"datum":"line","type":"nominal","scale":{"type":"point","domain":["h1","s1","h2","line","s2","r1","s3","r2","s4","r3","s5","s6","s7","tot","s8","het","s9","test"]},"axis":null}}}]},
{"width":60,"height":76.5,"layer":[{"data":{"name":"t"},"transform":[{"filter":"datum.p=='C' && isValid(datum.ci)"}],"mark":{"type":"text","fontWeight":{"expr":"datum.r=='h1'||datum.r=='h2'||datum.r=='tot' ? 'bold' : 'normal'"}},"encoding":{"x":{"field":"p","type":"nominal","scale":{"type":"point","padding":0,"align":0},"axis":null},"y":{"field":"r","type":"nominal","scale":{"type":"point","domain":["h1","s1","h2","line","s2","r1","s3","r2","s4","r3","s5","s6","s7","tot","s8","het","s9","test"]},"axis":null},"text":{"field":"ci"},"color":{"condition":{"test":"datum.r=='h1'||datum.r=='h2'||datum.r=='tot'","value":"#222"},"value":"#555"}}},{"data":{"values":[{}]},"mark":{"type":"rule","color":"#888","strokeWidth":0.8},"encoding":{"y":{"datum":"line","type":"nominal","scale":{"type":"point","domain":["h1","s1","h2","line","s2","r1","s3","r2","s4","r3","s5","s6","s7","tot","s8","het","s9","test"]},"axis":null}}}]},
{"vconcat":[
{"width":168,"height":12.75,"data":{"name":"t"},"transform":[{"filter":"datum.p=='C' && (datum.r=='h1' || datum.r=='h2')"}],"mark":{"type":"text","fontWeight":"bold","color":"#222"},"encoding":{"x":{"field":"p","type":"nominal","scale":{"type":"point","align":0.315},"axis":null},"y":{"field":"r","type":"nominal","scale":{"type":"point","domain":["h1","s1","h2"]},"axis":null},"text":{"field":"ci"}}},
{"width":168,"height":55.25,"layer":[
{"data":{"values":[{}]},"mark":{"type":"rule","color":"#888","strokeWidth":0.8},"encoding":{"y":{"datum":"line","type":"nominal","scale":{"type":"point","domain":["line","s2","r1","s3","r2","s4","r3","s5","s6","s7","tot","s8","het"]},"axis":null}}},
{"data":{"values":[{}]},"mark":{"type":"rule","color":"#444","strokeWidth":1},"encoding":{"x":{"datum":0,"type":"quantitative","scale":{"domain":[-73.5,75],"nice":false,"zero":false},"axis":{"values":[-50,-25,0,25,50],"title":"Favors WBVT\u00a0\u00a0\u00a0\u00a0\u00a0\u00a0\u00a0\u00a0\u00a0\u00a0\u00a0\u00a0\u00a0\u00a0\u00a0\u00a0\u00a0Favors control"}},"y":{"datum":"line","type":"nominal","scale":{"type":"point","domain":["line","s2","r1","s3","r2","s4","r3","s5","s6","s7","tot","s8","het"]},"axis":null},"y2":{"datum":"het"}}},
{"data":{"name":"t"},"transform":[{"filter":"datum.p=='C' && isValid(datum.w)"}],"mark":{"type":"rule","color":"#555","strokeWidth":1},"encoding":{"x":{"field":"lo","type":"quantitative","scale":{"domain":[-73.5,75],"nice":false,"zero":false}},"x2":{"field":"hi"},"y":{"field":"r","type":"nominal","scale":{"type":"point","domain":["line","s2","r1","s3","r2","s4","r3","s5","s6","s7","tot","s8","het"]},"axis":null}}},
{"data":{"name":"t"},"transform":[{"filter":"datum.p=='C' && isValid(datum.w)"}],"mark":{"type":"point","shape":"square","filled":true,"color":"#555","opacity":1},"encoding":{"x":{"field":"md","type":"quantitative","scale":{"domain":[-73.5,75],"nice":false,"zero":false}},"y":{"field":"r","type":"nominal","scale":{"type":"point","domain":["line","s2","r1","s3","r2","s4","r3","s5","s6","s7","tot","s8","het"]},"axis":null},"size":{"field":"w","type":"quantitative","scale":{"domain":[0,42.4],"range":[0,30]},"legend":null}}},
{"data":{"name":"t"},"transform":[{"filter":"datum.p=='C' && datum.r=='tot'"},{"fold":["lo","md","hi"]}],"mark":{"type":"trail","color":"#000"},"encoding":{"x":{"field":"value","type":"quantitative","scale":{"domain":[-73.5,75],"nice":false,"zero":false}},"y":{"field":"r","type":"nominal","scale":{"type":"point","domain":["line","s2","r1","s3","r2","s4","r3","s5","s6","s7","tot","s8","het"]},"axis":null},"size":{"field":"key","type":"ordinal","scale":{"type":"ordinal","domain":["lo","md","hi"],"range":[0,7,0]},"legend":null}}}
]}
],"spacing":0,"bounds":"flush"}
],"spacing":0,"bounds":"flush"}
]
}
